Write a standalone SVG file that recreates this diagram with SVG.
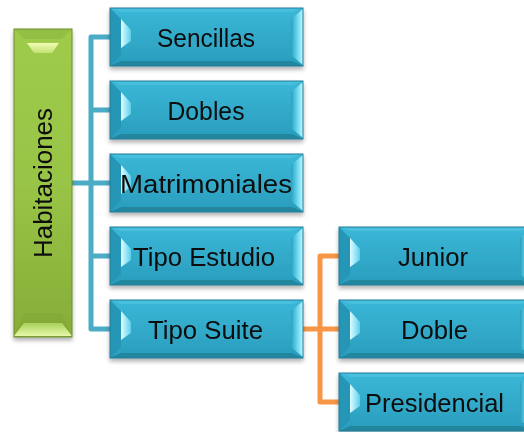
<svg xmlns="http://www.w3.org/2000/svg" width="524" height="432" viewBox="0 0 524 432">
<defs>
  <linearGradient id="gBlue" x1="0" y1="0" x2="0" y2="1">
    <stop offset="0" stop-color="#3bb7d7"/>
    <stop offset="1" stop-color="#2a9dbd"/>
  </linearGradient>
  <linearGradient id="gBlueR" x1="0" y1="0" x2="1" y2="0">
    <stop offset="0" stop-color="#2b9fbf"/>
    <stop offset="0.45" stop-color="#5fd0ea"/>
    <stop offset="1" stop-color="#c2f6ff"/>
  </linearGradient>
  <linearGradient id="gBlueL" x1="0" y1="0" x2="1" y2="0">
    <stop offset="0" stop-color="#e0fcff"/>
    <stop offset="0.6" stop-color="#8fe4f6"/>
    <stop offset="1" stop-color="#5ccde8"/>
  </linearGradient>
  <linearGradient id="gGreen" x1="0" y1="0" x2="0" y2="1">
    <stop offset="0" stop-color="#9fcb4c"/>
    <stop offset="0.5" stop-color="#98c446"/>
    <stop offset="1" stop-color="#86ad38"/>
  </linearGradient>
  <linearGradient id="gGreenT" x1="0" y1="0" x2="0" y2="1">
    <stop offset="0" stop-color="#f2fcb4"/>
    <stop offset="1" stop-color="#c2e274"/>
  </linearGradient>
  <linearGradient id="gGreenB" x1="0" y1="0" x2="0" y2="1">
    <stop offset="0" stop-color="#a8d05c"/>
    <stop offset="1" stop-color="#e6f8a8"/>
  </linearGradient>
  <filter id="sh" x="-10%" y="-10%" width="120%" height="130%">
    <feDropShadow dx="0" dy="3" stdDeviation="2" flood-color="#000" flood-opacity="0.3"/>
  </filter>
  <g id="blueBox">
    <rect x="0" y="0" width="193" height="58" fill="url(#gBlue)"/>
    <polygon points="0,0 193,0 182,4 11,4" fill="#46bfdd"/>
    <polygon points="0,0 11,11 11,47 0,58" fill="#2896b6"/>
    <polygon points="11,11 21,22 21,33 11,40" fill="url(#gBlueL)"/>
    <polygon points="193,1 181,11 181,47 193,57" fill="url(#gBlueR)"/>
    <polygon points="0,58 11,53 182,53 193,58" fill="#22869f"/>
    <rect x="0" y="0" width="193" height="58" fill="none" stroke="#1f7d97" stroke-width="1"/>
  </g>
</defs>
<style>
  .lbl { font-family: "Liberation Sans", Arial, sans-serif; font-size: 26px; fill: #0d0d0d; text-anchor: middle; }
  .conB { fill: none; stroke: #4bacc6; stroke-width: 5; stroke-linejoin: round; }
  .conO { fill: none; stroke: #f79646; stroke-width: 5; stroke-linejoin: round; }
</style>

<g id="connectors">
  <path class="conB" d="M72 183 H91 M110 37 H91 V329 H110 M91 110 H110 M91 183 H110 M91 256 H110"/>
  <path class="conO" d="M303 329 H339 M339 256 H320 V402 H339 M320 329 H339"/>
</g>

<g id="habitaciones" filter="url(#sh)">
  <rect x="14" y="29" width="58" height="308" fill="url(#gGreen)"/>
  <polygon points="14,29 72,29 62,39 24,39" fill="#93bf44"/>
  <polygon points="27,43 59,43 52,53 34,53" fill="url(#gGreenT)"/>
  <polygon points="24,313 62,313 72,337 14,337" fill="#7fa534" opacity="0.5"/>
  <polygon points="24,323 62,323 72,336 14,336" fill="url(#gGreenB)"/>
  <rect x="14" y="29" width="58" height="308" fill="none" stroke="#6c8e2c" stroke-width="1"/>
  <text class="lbl" transform="translate(52,183) rotate(-90)" textLength="150" lengthAdjust="spacingAndGlyphs">Habitaciones</text>
</g>

<g id="sencillas" filter="url(#sh)">
  <use href="#blueBox" x="110" y="8"/>
  <text class="lbl" x="206" y="46.5" textLength="98" lengthAdjust="spacingAndGlyphs">Sencillas</text>
</g>
<g id="dobles" filter="url(#sh)">
  <use href="#blueBox" x="110" y="81"/>
  <text class="lbl" x="206" y="119.5" textLength="77" lengthAdjust="spacingAndGlyphs">Dobles</text>
</g>
<g id="matrimoniales" filter="url(#sh)">
  <use href="#blueBox" x="110" y="154"/>
  <text class="lbl" x="206" y="192.5" textLength="172" lengthAdjust="spacingAndGlyphs">Matrimoniales</text>
</g>
<g id="tipo-estudio" filter="url(#sh)">
  <use href="#blueBox" x="110" y="227"/>
  <text class="lbl" x="204" y="265.5" textLength="142" lengthAdjust="spacingAndGlyphs">Tipo Estudio</text>
</g>
<g id="tipo-suite" filter="url(#sh)">
  <use href="#blueBox" x="110" y="300"/>
  <text class="lbl" x="205.5" y="338.5" textLength="115" lengthAdjust="spacingAndGlyphs">Tipo Suite</text>
</g>
<g id="junior" filter="url(#sh)">
  <use href="#blueBox" x="339" y="227"/>
  <text class="lbl" x="433" y="265.5" textLength="70" lengthAdjust="spacingAndGlyphs">Junior</text>
</g>
<g id="doble" filter="url(#sh)">
  <use href="#blueBox" x="339" y="300"/>
  <text class="lbl" x="434.5" y="338.5" textLength="67" lengthAdjust="spacingAndGlyphs">Doble</text>
</g>
<g id="presidencial" filter="url(#sh)">
  <use href="#blueBox" x="339" y="373"/>
  <text class="lbl" x="434.5" y="411.5" textLength="139" lengthAdjust="spacingAndGlyphs">Presidencial</text>
</g>
</svg>
